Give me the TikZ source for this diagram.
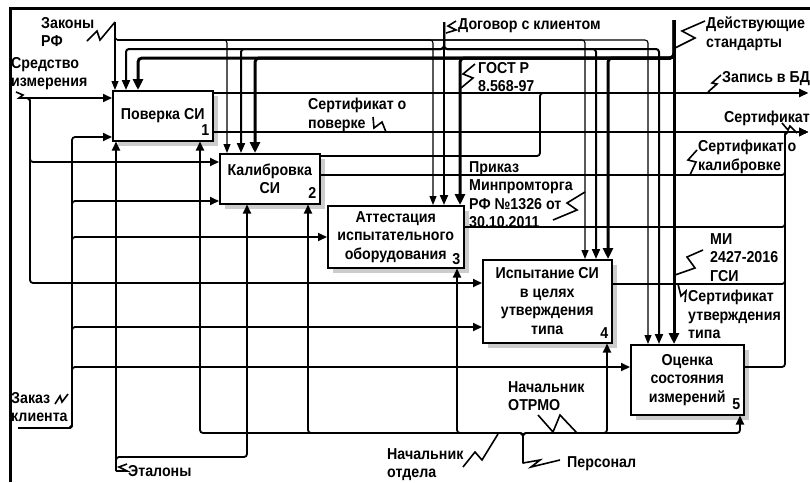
\documentclass[tikz,border=0pt]{standalone}
\usepackage{fontspec}
\setmainfont{Liberation Sans}[FakeStretch=0.9]
\usetikzlibrary{arrows.meta,shadows}
\begin{document}
\begin{tikzpicture}[x=1pt,y=-1pt,
  font=\fontsize{15.8}{18.5}\selectfont\bfseries,
  conn/.style={line width=1.8pt, rounded corners=3pt},
  arr/.style={-{Triangle[length=9pt,width=8pt]}},
  ctlA/.style={line width=1.1pt, rounded corners=3pt, -{Triangle[length=9pt,width=7pt]}},
  ctlB/.style={line width=2pt, rounded corners=3pt, -{Triangle[length=10pt,width=8pt]}},
  ctlC/.style={line width=3pt, rounded corners=4pt, -{Triangle[length=11pt,width=10pt]}},
  zig/.style={line width=1.6pt, line join=miter},
  lbl/.style={anchor=north west, inner sep=0pt, align=left},
  box/.style={draw, line width=1.5pt, fill=white, align=center, inner sep=0pt, anchor=north west,
    drop shadow={shadow xshift=5pt, shadow yshift=-5pt, fill=gray!40, opacity=1}},
  num/.style={anchor=south east, inner sep=0pt}
]
\useasboundingbox (0,0) rectangle (810,482);
\fill[white] (0,0) rectangle (810,482);

% frame
\draw[line width=3pt] (10,482) -- (10,8) -- (810,8);

% boxes
\node[box, minimum width=100pt, minimum height=50pt] (b1) at (112,90) {Поверка СИ};
\node[box, minimum width=100pt, minimum height=50pt] (b2) at (219,153) {Калибровка\\СИ};
\node[box, minimum width=136pt, minimum height=62pt] (b3) at (327,205) {Аттестация\\испытательного\\оборудования};
\node[box, minimum width=129pt, minimum height=83pt] (b4) at (482,259) {Испытание СИ\\в целях\\утверждения\\типа};
\node[box, minimum width=113pt, minimum height=70pt] (b5) at (630,344) {Оценка\\состояния\\измерений};
\node[num] (n1) at ([xshift=-4pt,yshift=6pt]b1.south east) {1};
\node[num] (n2) at ([xshift=-4pt,yshift=6pt]b2.south east) {2};
\node[num] (n3) at ([xshift=-4pt,yshift=4pt]b3.south east) {3};
\node[num] (n4) at ([xshift=-4pt,yshift=5pt]b4.south east) {4};
\node[num] (n5) at ([xshift=-4pt,yshift=6pt]b5.south east) {5};

% source / sink points
\coordinate (zk) at (115,22);   % Законы РФ
\coordinate (dg) at (444,22);   % Договор с клиентом
\coordinate (ds) at (674,20);   % Действующие стандарты
\coordinate (sr) at (22,98);    % Средство измерения
\coordinate (zz) at (18,428);   % Заказ клиента
\coordinate (et) at (116,471);  % Эталоны
\coordinate (pr) at (523,463);  % Персонал
\coordinate (zapE) at (808,93); % Запись в БД
\coordinate (serE) at (808,132);% Сертификат

% controls: Законы РФ
\draw[ctlA] (zk) -- (zk |- b1.north);
\draw[ctlA] (zk) |- (227,40) -- (227,0 |- b2.north);
\draw[ctlA] (zk) |- (433,40) -- (433,0 |- b3.north);
\draw[ctlA] (zk) |- (585,40) -- (585,0 |- b4.north);
\draw[ctlA] (zk) |- (648,40) -- (648,0 |- b5.north);
% controls: Договор с клиентом
\draw[ctlB] (dg) -- (dg |- b3.north);
\draw[ctlB] (dg) |- (126,49) -- (126,0 |- b1.north);
\draw[ctlB] (dg) |- (241,49) -- (241,0 |- b2.north);
\draw[ctlB] (dg) |- (596,49) -- (596,0 |- b4.north);
\draw[ctlB] (dg) |- (659,49) -- (659,0 |- b5.north);
% controls: Действующие стандарты
\draw[ctlC] (ds) -- (ds |- b5.north);
\draw[ctlC] (ds) |- (138,58) -- (138,0 |- b1.north);
\draw[ctlC] (ds) |- (255,58) -- (255,0 |- b2.north);
\draw[ctlC] (ds) |- (460,58) -- (460,0 |- b3.north);
\draw[ctlC] (ds) |- (608,58) -- (608,0 |- b4.north);

% inputs: Средство измерения
\draw[conn,arr] (sr) -- (b1.west |- sr);
\draw[conn,arr] (sr) -| (30,162) -- (b2.west |- 30,162);
\draw[conn,arr] (sr) -| (30,283) -- (b4.west |- 30,283);
% inputs: Заказ клиента
\draw[conn,arr] (zz) -| (72,137) -- (b1.west |- 72,137);
\draw[conn,arr] (zz) -| (72,201) -- (b2.west |- 72,201);
\draw[conn,arr] (zz) -| (72,237) -- (b3.west |- 72,237);
\draw[conn,arr] (zz) -| (72,327) -- (b4.west |- 72,327);
\draw[conn,arr] (zz) -| (72,367) -- (b5.west |- 72,367);

% mechanisms: Эталоны
\draw[conn,arr] (et) -- (et |- b1.south);
\draw[conn,arr] (et) |- (247,457) -- (247,0 |- b2.south);
% mechanisms: Персонал / Начальники
\draw[conn,arr] (pr) |- (200,433) -- (200,0 |- b1.south);
\draw[conn,arr] (pr) |- (308,433) -- (308,0 |- b2.south);
\draw[conn,arr] (pr) |- (457,433) -- (457,0 |- b3.south);
\draw[conn,arr] (pr) |- (607,433) -- (607,0 |- b4.south);
\draw[conn,arr] (pr) |- (740,433) -- (740,0 |- b5.south);

% outputs
\draw[conn,arr] (b1.east |- 0,93) -- (zapE);
\draw[conn,arr] (b1.east |- 0,132) -- (serE);
\draw[conn,arr] (b2.east |- 0,156) -| (540,93) -- (zapE);
\draw[conn,arr] (b2.east |- 0,175) -| (785,132) -- (serE);
\draw[conn,arr] (b3.east |- 0,227) -| (785,132) -- (serE);
\draw[conn,arr] (b4.east |- 0,284) -| (785,132) -- (serE);
\draw[conn,arr] (b5.east |- 0,367) -| (785,132) -- (serE);

% labels
\node[lbl] (lZak) at (41,17) {Законы\\РФ};
\node[lbl] (lSred) at (11,57) {Средство\\измерения};
\node[lbl] (lZakaz) at (11,392) {Заказ\\клиента};
\node[lbl] (lEt) at (128,465) {Эталоны};
\node[lbl] (lDog) at (458,18) {Договор с клиентом};
\node[lbl] (lDs) at (706,17) {Действующие\\стандарты};
\node[lbl] (lGost) at (478,62) {ГОСТ Р\\8.568-97};
\node[lbl] (lZap) at (722,71) {Запись в БД};
\node[lbl] (lSer) at (724,111) {Сертификат};
\node[lbl] (lSerK) at (698,140) {Сертификат о\\калибровке};
\node[lbl] (lSerP) at (308,98) {Сертификат о\\поверке};
\node[lbl] (lPrik) at (469,161) {Приказ\\Минпромторга\\РФ №1326 от\\30.10.2011};
\node[lbl] (lMI) at (710,233) {МИ\\2427-2016\\ГСИ};
\node[lbl] (lSerU) at (688,290) {Сертификат\\утверждения\\типа};
\node[lbl] (lOtrmo) at (508,381) {Начальник\\ОТРМО};
\node[lbl] (lOtd) at (387,448) {Начальник\\отдела};
\node[lbl] (lPers) at (567,456) {Персонал};

% squiggles
\draw[zig] (87,41) -- (97,31) -- (100,40) -- (115,22);
\draw[zig] (16,92) -- (23,95) -- (19,98) -- (sr);
\draw[zig] (55,404) -- (60,396) -- (62,402) -- (68,394);
\draw[zig] (127,464) -- (119,467) -- (127,471) -- (et);
\draw[zig] (456,21) -- (448,26) -- (456,30) -- (446,33);
\draw[zig] (675,48) -- (695,38) -- (682,31) -- (705,21);
\draw[zig] (475,64) -- (463,74) -- (473,78) -- (461,88);
\draw[zig] (708,92) -- (717,84) -- (712,83) -- (721,75);
\draw[zig] (782,123) -- (788,130) -- (790,126) -- (797,133);
\draw[zig] (697,150) -- (688,160) -- (696,162) -- (690,175);
\draw[zig] (373,117) -- (374,128) -- (382,122) -- (386,132);
\draw[zig] (553,220) -- (577,210) -- (567,203) -- (585,192);
\draw[zig] (703,250) -- (687,257) -- (695,268) -- (675,275);
\draw[zig] (678,284) -- (681,296) -- (686,291) -- (685,302);
\draw[zig] (538,415) -- (553,432) -- (560,415) -- (577,433);
\draw[zig] (463,467) -- (475,452) -- (482,460) -- (498,434);
\draw[zig] (pr) -- (540,460) -- (531,467) -- (560,460);
\end{tikzpicture}
\end{document}
